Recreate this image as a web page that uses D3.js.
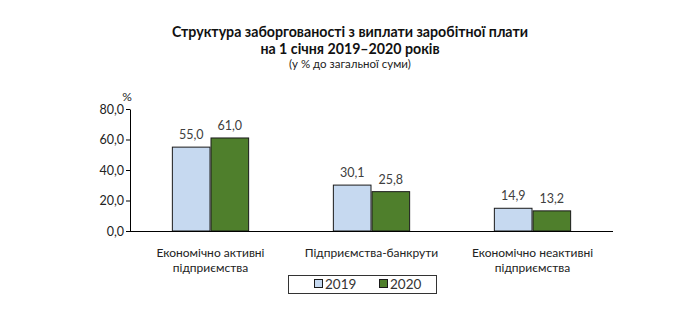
<!DOCTYPE html>
<html>
<head>
<meta charset="utf-8">
<script src="https://cdn.jsdelivr.net/npm/d3@7/dist/d3.min.js"></script>
<style>
  html, body { margin: 0; padding: 0; background: #fff; }
  svg { display: block; font-family: Lato, "Open Sans", sans-serif; }
</style>
</head>
<body>
<svg id="chart" width="675" height="324"></svg>
<script>
// Wage arrears structure, % of total
const categories = [
  ["Економічно активні", "підприємства"],
  ["Підприємства-банкрути"],
  ["Економічно неактивні", "підприємства"]
];
const years = ["2019", "2020"];
const values2019 = [55.0, 30.1, 14.9];
const values2020 = [61.0, 25.8, 13.2];
const yTicks = [0, 20, 40, 60, 80];

const colors = { "2019": "#c6d9f0", "2020": "#4f7f2c" };
const fmt = v => v.toFixed(1).replace(".", ",");

const svg = d3.select("#chart");

// Title block
const title = svg.append("g").attr("text-anchor", "middle").attr("fill", "#111");
title.append("text").attr("x", 350).attr("y", 36.5)
  .attr("font-size", 14.2).attr("font-weight", 700)
  .text("Структура заборгованості з виплати заробітної плати");
title.append("text").attr("x", 350).attr("y", 53.5)
  .attr("font-size", 14.2).attr("font-weight", 700)
  .text("на 1 січня 2019–2020 років");
title.append("text").attr("x", 350).attr("y", 68)
  .attr("font-size", 11.5).attr("fill", "#222")
  .text("(у % до загальної суми)");

// Scales
const x0 = d3.scaleBand().domain(d3.range(categories.length))
  .range([130, 613]).paddingInner(0.52).paddingOuter(0.26);
const x1 = d3.scaleBand().domain(years).range([0, x0.bandwidth()]);
const y = d3.scaleLinear().domain([0, 80]).range([231, 109]);

// Y axis
const yAxis = svg.append("g").attr("transform", "translate(130,0)")
  .call(d3.axisLeft(y).tickValues(yTicks).tickFormat(fmt).tickSize(4).tickSizeOuter(0));
yAxis.select(".domain").attr("stroke", "#000");
yAxis.selectAll(".tick line").attr("stroke", "#000");
yAxis.selectAll(".tick text").attr("font-size", 12.5).attr("fill", "#222")
  .attr("font-family", "Lato, sans-serif").attr("x", -6);
svg.append("text").attr("x", 127).attr("y", 101).attr("text-anchor", "middle")
  .attr("font-size", 12).attr("fill", "#222").text("%");

// Bars
const series = { "2019": values2019, "2020": values2020 };
const groups = svg.append("g").selectAll("g")
  .data(categories.map((c, i) => i)).join("g")
  .attr("transform", i => `translate(${x0(i)},0)`);

groups.selectAll("rect")
  .data(i => years.map(yr => ({ yr, v: series[yr][i] }))).join("rect")
  .attr("x", d => x1(d.yr) + 0.5)
  .attr("y", d => y(d.v))
  .attr("width", x1.bandwidth() - 1)
  .attr("height", d => y(0) - y(d.v))
  .attr("fill", d => colors[d.yr])
  .attr("stroke", "#1a1a1a").attr("stroke-width", 1);

groups.selectAll("text.val")
  .data(i => years.map(yr => ({ yr, v: series[yr][i] }))).join("text")
  .attr("class", "val")
  .attr("x", d => x1(d.yr) + x1.bandwidth() / 2)
  .attr("y", d => y(d.v) - 8)
  .attr("text-anchor", "middle").attr("font-size", 12.5).attr("fill", "#404040")
  .text(d => fmt(d.v));

// X axis line
svg.append("line").attr("x1", 130).attr("x2", 613)
  .attr("y1", y(0) + 0.5).attr("y2", y(0) + 0.5).attr("stroke", "#000");

// Category labels
groups.append("text")
  .attr("x", x0.bandwidth() / 2).attr("y", 257)
  .attr("text-anchor", "middle").attr("font-size", 12).attr("fill", "#222")
  .selectAll("tspan").data(i => categories[i]).join("tspan")
  .attr("x", x0.bandwidth() / 2).attr("dy", (d, j) => j ? 15 : 0)
  .text(d => d);

// Legend
const legend = svg.append("g");
legend.append("rect").attr("x", 288.5).attr("y", 275.5).attr("width", 148).attr("height", 18)
  .attr("fill", "#fff").attr("stroke", "#333");
const legendItems = legend.selectAll("g").data(years).join("g")
  .attr("transform", (d, i) => `translate(${314 + i * 65},284)`);
legendItems.append("rect").attr("x", 0.5).attr("y", -4.5).attr("width", 8).attr("height", 8)
  .attr("fill", d => colors[d]).attr("stroke", "#1a1a1a");
legendItems.append("text").attr("x", 11).attr("y", 5)
  .attr("font-size", 13.5).attr("fill", "#333").text(d => d);
</script>
</body>
</html>
